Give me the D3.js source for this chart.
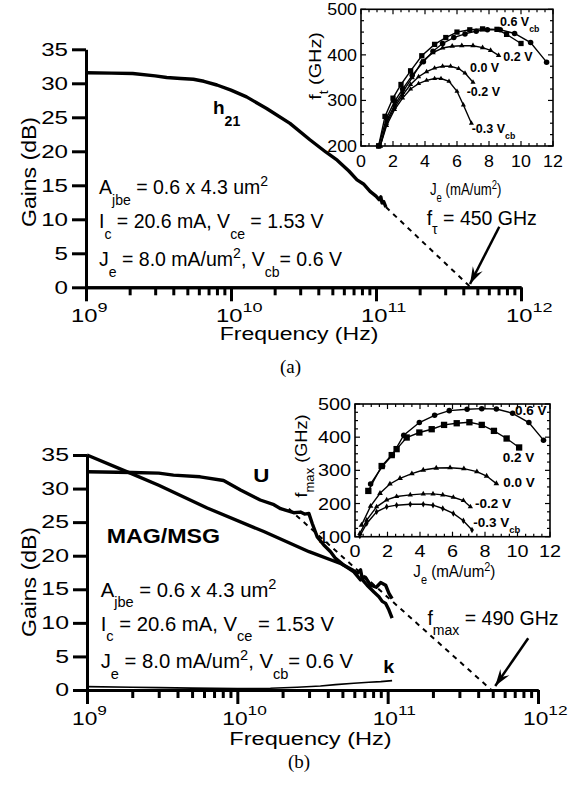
<!DOCTYPE html>
<html>
<head>
<meta charset="utf-8">
<script src="https://cdn.jsdelivr.net/npm/d3@7"></script>
<style>
  body { margin: 0; background: #fff; }
  svg text { white-space: pre; }
</style>
</head>
<body>
<div id="chart"></div>
<script>
//---- data ----//
const decades = [1e9, 1e10, 1e11, 1e12];
const decadeExp = ["9", "10", "11", "12"];
const gainTicks = [0, 5, 10, 15, 20, 25, 30, 35];

// (a) current gain h21 vs frequency
const h21Freq = [1e9, 1.5e9, 2.1e9, 3e9, 3.6e9, 4.5e9, 5.5e9, 6.5e9, 8e9, 1e10, 1.28e10, 1.76e10, 2.55e10, 3.5e10, 4.5e10, 5.4e10, 6.5e10, 7.4e10, 8.2e10, 9.1e10, 1.0e11, 1.05e11, 1.08e11, 1.1e11, 1.13e11, 1.17e11];
const h21Gain = [31.55, 31.5, 31.45, 31.1, 30.85, 30.7, 30.6, 30.3, 29.75, 29.0, 28.0, 26.3, 24.1, 21.7, 19.9, 18.7, 17.1, 15.8, 15.2, 14.1, 13.4, 12.9, 13.3, 12.4, 12.6, 11.8];
const ftExtrapFreq = [1.17e11, 4.5e11];
const ftExtrapGain = [11.8, 0];

// (b) U, MAG/MSG and k vs frequency
const uFreq = [1e9, 2e9, 3e9, 3.76e9, 5.66e9, 8.1e9, 1.05e10, 1.42e10, 1.75e10, 1.94e10, 2.37e10, 2.63e10, 2.8e10, 2.99e10, 3.15e10, 3.4e10, 3.76e10, 4.17e10, 4.5e10, 5.1e10, 5.96e10, 6.6e10, 7.1e10, 7.7e10, 8.4e10, 8.98e10, 9.7e10, 1.02e11, 1.07e11];
const uGain = [32.5, 32.4, 32.3, 32.0, 31.75, 31.2, 29.8, 28.3, 27.6, 27.0, 26.4, 26.5, 26.2, 26.3, 24.8, 22.8, 21.6, 20.6, 19.6, 18.6, 17.6, 16.4, 16.8, 15.6, 15.3, 16.0, 15.6, 14.4, 13.6];
const magFreq = [1e9, 1.94e9, 3e9, 6.3e9, 1.5e10, 3e10, 4.9e10, 5.8e10, 6.3e10, 6.6e10, 6.8e10, 7.3e10, 8.1e10, 8.75e10, 9.2e10, 9.7e10, 1.02e11, 1.07e11];
const magGain = [35.0, 32.3, 30.5, 27.1, 23.6, 20.6, 18.8, 17.9, 17.4, 17.9, 16.4, 15.6, 14.6, 13.9, 13.2, 12.9, 11.9, 10.7];
const kFreq = [1e9, 2e9, 3e9, 5e9, 1e10, 1.66e10, 2.5e10, 3.57e10, 4.5e10, 5.96e10, 7.5e10, 9e10, 1.07e11];
const kGain = [0.5, 0.42, 0.35, 0.28, 0.2, 0.25, 0.4, 0.6, 0.8, 1.0, 1.15, 1.25, 1.4];
const fmaxExtrapFreq = [2.2e10, 4.9e11];
const fmaxExtrapGain = [27.0, 0];

// inset (a): ft (GHz) vs Je (mA/um2)
const ftJe = [
    [1.1, 1.6, 2.1, 2.6, 3.2, 3.9, 4.5, 5.1, 5.8, 6.5, 7.2, 7.9, 8.7, 9.6, 10.6, 11.6],
    [1.1, 1.5, 2.0, 2.5, 3.1, 3.8, 4.6, 5.3, 6.0, 6.8, 7.6, 8.5, 9.1, 10.0],
    [1.2, 1.6, 2.1, 2.6, 3.2, 3.8, 4.5, 5.1, 5.7, 6.3, 7.0, 7.6, 8.1, 8.6],
    [1.2, 1.6, 2.1, 2.6, 3.1, 3.6, 4.1, 4.6, 5.1, 5.6, 6.1, 6.5, 7.0],
    [1.2, 1.6, 2.1, 2.6, 3.1, 3.6, 4.1, 4.6, 5.0, 5.5, 6.0, 6.4, 6.9]
];
const ftVals = [
    [200, 262, 298, 325, 355, 385, 408, 425, 438, 446, 452, 455, 455, 447, 427, 384],
    [200, 265, 305, 335, 365, 398, 423, 438, 450, 455, 457, 456, 445, 425],
    [200, 255, 290, 318, 350, 385, 405, 415, 419, 420, 420, 416, 410, 399],
    [200, 250, 285, 312, 335, 352, 363, 371, 375, 375, 370, 360, 340],
    [200, 245, 280, 305, 325, 337, 344, 348, 348, 342, 320, 290, 250]
];

// inset (b): fmax (GHz) vs Je (mA/um2)
const fmaxJe = [
    [0.96, 1.7, 2.3, 3.0, 3.96, 4.9, 5.8, 6.9, 7.8, 8.7, 9.7, 10.7, 11.6],
    [0.82, 1.64, 2.26, 2.56, 3.18, 3.96, 4.72, 5.48, 6.26, 7.04, 7.8, 8.55, 9.33, 10.1],
    [0.4, 0.96, 1.54, 2.15, 2.77, 3.5, 4.2, 5.0, 5.85, 6.7, 7.5, 8.1, 8.7],
    [0.3, 0.72, 1.33, 1.95, 2.56, 3.4, 4.2, 4.8, 5.4, 6.05, 6.67, 7.1],
    [0.3, 0.72, 1.33, 1.95, 2.56, 3.4, 4.2, 4.8, 5.4, 6.05, 6.67, 7.2]
];
const fmaxVals = [
    [259, 313, 346, 406, 444, 466, 480, 484, 486, 485, 472, 444, 391],
    [238, 313, 346, 364, 399, 414, 424, 437, 442, 445, 437, 419, 396, 369],
    [135, 192, 231, 259, 276, 290, 301, 307, 308, 305, 296, 283, 260],
    [110, 150, 190, 211, 221, 226, 229, 229, 226, 219, 209, 190],
    [102, 140, 175, 190, 195, 198, 198, 195, 185, 170, 148, 120]
];

const svg = d3.select("#chart")
    .append("svg")
    .attr("width", 569)
    .attr("height", 785)
    .style("background", "#fff");

const sans = "'Liberation Sans', Arial, Helvetica, sans-serif";

//text with sub/superscripts, optionally stretched like the scanned figure
function addText(g, x, y, parts, o) {
    const size = o.size;
    let tf = "translate(" + x + "," + y + ")";
    if (o.rot) tf += " rotate(" + o.rot + ")";
    tf += " scale(" + (o.sx || 1) + "," + (o.sy || 1) + ")";
    const t = g.append("text")
        .attr("transform", tf)
        .attr("text-anchor", o.anchor || "start")
        .style("font-family", o.family || sans)
        .style("font-size", size + "px")
        .style("font-weight", o.weight || "normal")
        .attr("fill", "#000");
    let cur = 0;
    parts.forEach(p => {
        const s = typeof p === "string" ? p : p[0];
        const k = typeof p === "string" ? "" : p[1];
        const off = k === "sub" ? size * (o.subOff || 0.5) : k === "sup" ? -size * (o.supOff || 0.45) : 0;
        const span = t.append("tspan").attr("dy", off - cur).text(s);
        if (k) span.style("font-size", (size * (o.small || 0.72)) + "px");
        cur = off;
    });
    return t;
}

function arrow(g, x1, y1, x2, y2) {
    g.append("line")
        .attr("x1", x1).attr("y1", y1).attr("x2", x2).attr("y2", y2)
        .attr("stroke", "#000").attr("stroke-width", 2.5);
    const a = Math.atan2(y2 - y1, x2 - x1);
    const len = 17, half = 5.5;
    const bx = x2 - len * Math.cos(a), by = y2 - len * Math.sin(a);
    const px = -Math.sin(a) * half, py = Math.cos(a) * half;
    g.append("path")
        .attr("d", "M" + x2 + "," + y2 + "L" + (bx + px) + "," + (by + py) + "L" + (bx + 0.35 * (x2 - bx)) + "," + (by + 0.35 * (y2 - by)) + "L" + (bx - px) + "," + (by - py) + "Z")
        .attr("fill", "#000");
}

//---- main gain panel ----//
function mainPanel(cfg) {
    const x = d3.scaleLog().domain([1e9, 1e12]).range([cfg.left, cfg.right]);
    const y = d3.scaleLinear().domain([0, 35]).range([cfg.bottom, cfg.top]);
    const g = svg.append("g");

    const minor = [];
    decades.slice(0, 3).forEach(d => { for (let k = 2; k <= 9; k++) minor.push(d * k); });

    g.append("g")
        .attr("transform", "translate(0," + cfg.bottom + ")")
        .call(d3.axisBottom(x).tickValues(minor).tickSize(8).tickSizeOuter(0).tickFormat(""));
    g.append("g")
        .attr("transform", "translate(0," + cfg.bottom + ")")
        .call(d3.axisBottom(x).tickValues(decades).tickSize(14).tickSizeOuter(0).tickFormat(""));
    g.append("g")
        .attr("transform", "translate(" + cfg.left + ",0)")
        .call(d3.axisLeft(y).tickValues(gainTicks).tickSize(14).tickSizeOuter(0).tickFormat(""));
    g.selectAll(".domain").attr("stroke", "#000").attr("stroke-width", 3);
    g.selectAll(".tick line").attr("stroke", "#000").attr("stroke-width", 3);

    //tick labels
    gainTicks.forEach(v => addText(g, cfg.left - 18, y(v) + 6.2, [String(v)], { size: 17.5, sx: cfg.tsx, anchor: "end" }));
    decades.forEach((d, i) => addText(g, x(d) - 15, cfg.bottom + 35, ["10", [decadeExp[i], "sup"]],
        { size: 17.5, sx: cfg.xsx, supOff: 0.58, small: 0.76 }));

    //axis titles
    addText(g, cfg.freqX, cfg.bottom + cfg.freqDy, ["Frequency (Hz)"], { size: 18, sx: cfg.fsx, anchor: "middle" });
    addText(g, 36, cfg.gainY, ["Gains (dB)"], { size: 18, rot: -90, sx: 1.28, sy: 1.15, anchor: "middle" });
    addText(g, cfg.capX, cfg.capY, [cfg.caption], { size: 19, family: "'Liberation Serif', 'Times New Roman', serif", anchor: "middle" });

    //device conditions
    const ann = { size: 19.5, sx: cfg.asx, subOff: 0.55, supOff: 0.42 };
    addText(g, cfg.annX, cfg.annY[0], ["A", ["jbe", "sub"], " = 0.6 x 4.3 um", ["2", "sup"]], ann);
    addText(g, cfg.annX, cfg.annY[1], ["I", ["c", "sub"], " = 20.6 mA, V", ["ce", "sub"], " = 1.53 V"], ann);
    addText(g, cfg.annX, cfg.annY[2], ["J", ["e", "sub"], " = 8.0 mA/um", ["2", "sup"], ", V", ["cb", "sub"], "= 0.6 V"], ann);

    const line = d3.line().x(d => x(d[0])).y(d => y(d[1]));
    return { g, x, y, line };
}

function drawCurve(p, fs, vs, w, dash) {
    p.g.append("path")
        .datum(fs.map((f, i) => [f, vs[i]]))
        .attr("d", p.line)
        .attr("fill", "none")
        .attr("stroke", "#000")
        .attr("stroke-width", w)
        .attr("stroke-linejoin", "round")
        .attr("stroke-dasharray", dash || null);
}

//---- inset panel ----//
function insetPanel(cfg, jes, vals) {
    const x = d3.scaleLinear().domain([0, 12]).range([cfg.left, cfg.right]);
    const y = d3.scaleLinear().domain(cfg.yDomain).range([cfg.bottom, cfg.top]);
    const g = svg.append("g");
    g.append("rect")
        .attr("x", cfg.left).attr("y", cfg.top)
        .attr("width", cfg.right - cfg.left).attr("height", cfg.bottom - cfg.top)
        .attr("fill", "#fff").attr("stroke", "#000").attr("stroke-width", 1.6);

    //inward ticks on all four sides
    const tk = g.append("g").attr("stroke", "#000").attr("stroke-width", 1.2);
    d3.range(0, 12.01, 0.5).forEach(v => {
        const l = (v % 2 === 0) ? 5 : 3;
        tk.append("line").attr("x1", x(v)).attr("x2", x(v)).attr("y1", cfg.bottom).attr("y2", cfg.bottom - l);
        tk.append("line").attr("x1", x(v)).attr("x2", x(v)).attr("y1", cfg.top).attr("y2", cfg.top + l);
    });
    d3.range(cfg.yDomain[0], cfg.yDomain[1] + 0.1, 25).forEach(v => {
        const l = (v % 100 === 0) ? 5 : 3;
        tk.append("line").attr("y1", y(v)).attr("y2", y(v)).attr("x1", cfg.left).attr("x2", cfg.left + l);
        tk.append("line").attr("y1", y(v)).attr("y2", y(v)).attr("x1", cfg.right).attr("x2", cfg.right - l);
    });

    d3.range(0, 12.01, 2).forEach(v => addText(g, x(v), cfg.bottom + 20.5, [String(v)], { size: 16.5, sx: cfg.lsx, anchor: "middle" }));
    d3.range(cfg.yDomain[0], cfg.yDomain[1] + 0.1, 100).forEach(v => addText(g, cfg.left - 4, y(v) + 6, [String(v)], { size: 16.5, sx: cfg.lsx, anchor: "end" }));

    addText(g, cfg.jeX, cfg.jeY, ["J", ["e", "sub"], " (mA/um", ["2", "sup"], ")"], { size: 16.5, sx: cfg.titleSx, subOff: 0.4, supOff: 0.34 });
    addText(g, cfg.fX, cfg.fY, cfg.fParts, { size: 16.5, rot: -90, sx: cfg.fSx, anchor: "middle", subOff: 0.4 });

    const line = d3.line().x(d => x(d[0])).y(d => y(d[1]));
    jes.forEach((js, i) => {
        const pts = js.map((j, k) => [j, vals[i][k]]);
        g.append("path").datum(pts).attr("d", line)
            .attr("fill", "none").attr("stroke", "#000").attr("stroke-width", 1.4);
        const sym = d3.symbol().type(cfg.markers[i]).size(cfg.markerSize[i]);
        g.selectAll(null).data(pts).enter().append("path")
            .attr("d", sym)
            .attr("transform", d => "translate(" + x(d[0]) + "," + y(d[1]) + ")")
            .attr("fill", "#000");
    });

    cfg.labels.forEach(l => addText(g, l.x, l.y, l.parts, { size: cfg.labelSize, weight: "bold", subOff: 0.45, small: 0.7 }));
}

//==== panel (a) ====//
const pa = mainPanel({
    left: 86, right: 521, top: 49.3, bottom: 287.3,
    tsx: 1.38, xsx: 1.36, fsx: 1.28, asx: 1.0,
    freqX: 299, freqDy: 53, gainY: 172,
    caption: "(a)", capX: 290.5, capY: 373,
    annX: 99, annY: [194.3, 228.3, 266]
});
drawCurve(pa, h21Freq, h21Gain, 3.4);
drawCurve(pa, ftExtrapFreq, ftExtrapGain, 2, "5,5");
addText(pa.g, 213, 114, ["h", ["21", "sub"]], { size: 19, weight: "bold", subOff: 0.62, small: 0.74 });
addText(pa.g, 426.7, 225, ["f", ["\u03c4", "sub"], " = 450 GHz"], { size: 19.5, subOff: 0.45 });
arrow(pa.g, 499.3, 226.7, 470, 284);

insetPanel({
    left: 361, right: 553, top: 9.3, bottom: 146, yDomain: [200, 500],
    lsx: 1.08, titleSx: 0.8, fSx: 1.2,
    jeX: 430, jeY: 195, fX: 321, fY: 66,
    fParts: ["f", ["t", "sub"], " (GHz)"],
    markers: [d3.symbolCircle, d3.symbolSquare, d3.symbolTriangle, d3.symbolTriangle, d3.symbolTriangle],
    markerSize: [24, 28, 13, 11, 11],
    labelSize: 12.5,
    labels: [
        { x: 500, y: 26, parts: ["0.6 V", ["cb", "sub"]] },
        { x: 503.3, y: 60.7, parts: ["0.2 V"] },
        { x: 470, y: 71.7, parts: ["0.0 V"] },
        { x: 466.7, y: 96, parts: ["-0.2 V"] },
        { x: 471.7, y: 133.3, parts: ["-0.3 V", ["cb", "sub"]] }
    ]
}, ftJe, ftVals);

//==== panel (b) ====//
const pb = mainPanel({
    left: 87, right: 538, top: 455, bottom: 690,
    tsx: 1.42, xsx: 1.3, fsx: 1.31, asx: 1.04,
    freqX: 310.5, freqDy: 55, gainY: 582,
    caption: "(b)", capX: 299, capY: 768.3,
    annX: 100.7, annY: [596.7, 630.7, 668.3]
});
drawCurve(pb, magFreq, magGain, 3.4);
drawCurve(pb, uFreq, uGain, 3.4);
drawCurve(pb, kFreq, kGain, 1.6);
drawCurve(pb, fmaxExtrapFreq, fmaxExtrapGain, 2, "5,5");
addText(pb.g, 253.3, 481.7, ["U"], { size: 18.6, weight: "bold", sx: 1.2 });
addText(pb.g, 106.7, 542.7, ["MAG/MSG"], { size: 20, weight: "bold", sx: 1.16 });
addText(pb.g, 383.3, 672.7, ["k"], { size: 18, weight: "bold", sx: 1.1 });
addText(pb.g, 427.4, 625, ["f", ["max", "sub"], " = 490 GHz"], { size: 19.5, sx: 1.0, subOff: 0.5 });
arrow(pb.g, 528.2, 638.3, 495.2, 686);

insetPanel({
    left: 355, right: 550, top: 404, bottom: 536.7, yDomain: [100, 500],
    lsx: 1.2, titleSx: 0.92, fSx: 1.1,
    jeX: 413.3, jeY: 577, fX: 307, fY: 456,
    fParts: ["f", ["max", "sub"], " (GHz)"],
    markers: [d3.symbolCircle, d3.symbolSquare, d3.symbolTriangle, d3.symbolTriangle, d3.symbolDiamond],
    markerSize: [24, 40, 14, 12, 12],
    labelSize: 13.5,
    labels: [
        { x: 515, y: 415, parts: ["0.6 V"] },
        { x: 502.7, y: 461.7, parts: ["0.2 V"] },
        { x: 503.3, y: 486.7, parts: ["0.0 V"] },
        { x: 475, y: 508.3, parts: ["-0.2 V"] },
        { x: 473.3, y: 526.7, parts: ["-0.3 V", ["cb", "sub"]] }
    ]
}, fmaxJe, fmaxVals);
</script>
</body>
</html>
